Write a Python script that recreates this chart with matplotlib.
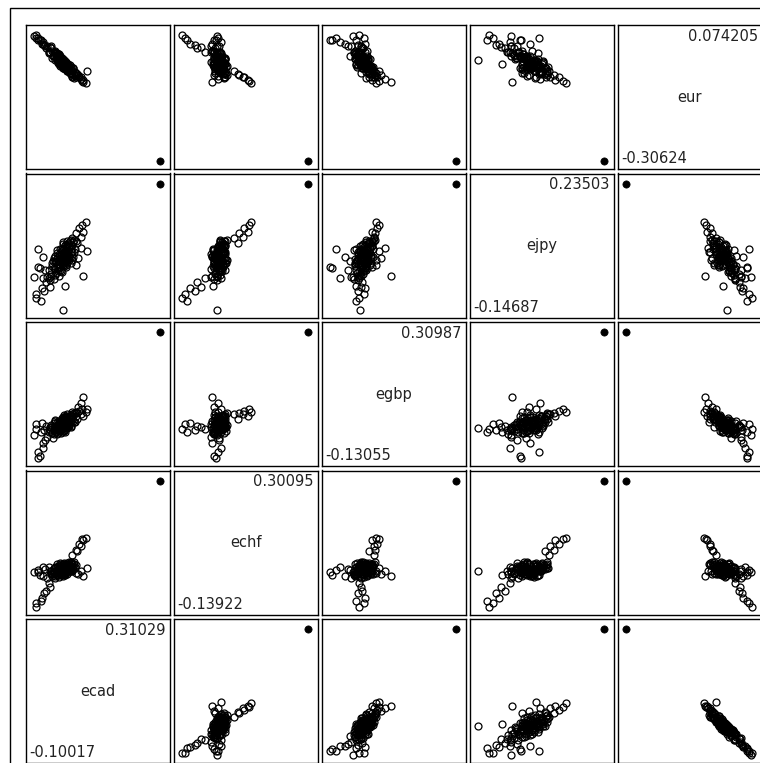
import numpy as np
import matplotlib.pyplot as plt
from matplotlib.patches import Rectangle

# monthly log-changes of five exchange rates; last observation is the crash month (drawn solid)
eur = [0.074205, 0.064, 0.060, 0.048, 0.045, 0.036, 0.038, 0.024, -0.070, -0.064, -0.060, -0.052, -0.053, -0.046, -0.044, -0.034,
       0.060, 0.066, 0.058, 0.054, 0.048, 0.072, 0.040, -0.068, -0.058, -0.046, -0.035, -0.040,
       0.000, -0.013,
       0.040, 0.006, 0.024, 0.012, 0.021, 0.007, 0.008, 0.000, 0.011, -0.011,
       0.018, -0.012, 0.010, -0.019, 0.012, -0.016, 0.006, -0.007, -0.005, -0.016,
       0.001, -0.013, -0.003, -0.016, -0.007, -0.019, -0.004, -0.016, -0.009, -0.024,
       -0.014, -0.022, -0.009, -0.025, -0.013, -0.022, -0.018, -0.031, -0.017, -0.029,
       -0.024, -0.039, -0.015, -0.044, -0.021, -0.051, -0.024, -0.054, 0.003, -0.026,
       0.011, -0.026, 0.020, -0.035, 0.003, -0.023, 0.022, -0.040, 0.027, -0.049,
       0.019, 0.035, 0.011, 0.023, -0.001, 0.015, 0.001, 0.016, -0.008, 0.012,
       -0.013, 0.006, -0.017, 0.004, -0.015, 0.003, -0.020, -0.003, -0.024, -0.001,
       -0.023, -0.005, -0.028, -0.006, -0.029, -0.012, -0.035, -0.013, -0.034, -0.018,
       -0.041, -0.024, -0.044, -0.025, -0.047, -0.038, -0.053, 0.041, 0.022, 0.027,
       -0.30624]
ejpy = [-0.112, -0.100, -0.120, -0.082, -0.092, -0.064, -0.078, -0.050, 0.119, 0.110, 0.088, 0.100, 0.072, 0.084, 0.056, 0.070,
        -0.017, 0.038, -0.020, -0.050, 0.012, -0.047, -0.028, -0.044, 0.040, 0.008, 0.030, -0.012,
        -0.14687, -0.074,
        -0.046, -0.007, -0.022, 0.010, -0.043, -0.002, -0.020, 0.024, -0.029, 0.001,
        -0.010, 0.017, -0.017, 0.037, 0.001, 0.016, -0.030, 0.027, -0.009, 0.007,
        0.036, -0.013, 0.020, 0.004, 0.051, 0.002, 0.028, -0.014, 0.021, 0.039,
        0.002, 0.020, 0.050, -0.001, 0.032, 0.017, 0.043, -0.006, 0.032, 0.052,
        0.016, 0.044, 0.010, 0.037, 0.065, 0.029, 0.058, 0.027, -0.033, 0.057,
        -0.046, -0.019, 0.034, 0.062, 0.007, 0.012, -0.055, -0.007, 0.017, 0.002,
        -0.026, -0.039, 0.000, -0.024, 0.000, -0.037, 0.008, -0.010, 0.022, -0.020,
        0.008, -0.027, 0.023, -0.002, 0.037, -0.007, 0.010, 0.033, -0.012, 0.023,
        0.003, 0.050, 0.011, 0.032, -0.012, 0.046, 0.022, 0.007, 0.045, 0.003,
        0.061, 0.029, 0.048, 0.014, 0.064, 0.038, 0.060, -0.047, -0.058, -0.014,
        0.23503]
egbp = [-0.028, -0.012, -0.040, -0.008, -0.032, -0.018, -0.022, -0.030, 0.030, 0.042, 0.018, 0.035, 0.022, 0.028, 0.005, 0.025,
        -0.13055, -0.108, -0.122, -0.095, -0.078, -0.050, -0.066, 0.084, 0.062, 0.048, 0.042, 0.030,
        -0.025, -0.040,
        -0.022, -0.042, -0.007, -0.031, -0.025, -0.041, -0.014, -0.006, -0.028, -0.016,
        -0.034, -0.006, -0.020, -0.011, -0.036, 0.002, -0.013, -0.025, -0.004, -0.020,
        0.009, -0.027, -0.012, -0.003, -0.015, 0.003, -0.032, -0.005, -0.018, 0.003,
        -0.010, 0.012, -0.019, -0.001, -0.024, 0.002, -0.011, 0.012, -0.014, 0.001,
        -0.018, 0.009, -0.004, 0.019, -0.006, 0.005, 0.017, -0.004, -0.022, -0.005,
        -0.034, 0.018, -0.047, 0.024, -0.043, 0.020, -0.047, -0.021, -0.001, 0.029,
        -0.040, -0.016, -0.059, -0.021, 0.001, -0.035, -0.022, -0.043, -0.011, 0.000,
        -0.025, -0.006, -0.031, 0.002, -0.038, -0.009, 0.012, -0.025, -0.015, 0.002,
        -0.035, -0.009, 0.014, -0.015, 0.008, -0.025, 0.004, -0.005, 0.018, -0.015,
        0.006, -0.017, 0.017, -0.002, 0.028, -0.004, 0.016, -0.057, -0.033, -0.044,
        0.30987]
echf = [-0.13922, -0.128, -0.120, -0.110, -0.092, -0.086, -0.072, -0.058, 0.101, 0.096, 0.092, 0.078, 0.074, 0.060, 0.055, 0.042,
        -0.020, -0.012, -0.028, -0.002, -0.034, -0.018, -0.008, -0.034, -0.014, -0.026, -0.004, -0.022,
        -0.016, -0.030,
        -0.015, -0.027, -0.005, -0.019, -0.006, -0.027, -0.012, -0.019, 0.002, -0.028,
        -0.006, -0.014, -0.021, -0.003, -0.010, -0.028, -0.006, 0.004, -0.014, -0.017,
        -0.006, 0.003, -0.012, -0.021, -0.001, -0.008, 0.002, -0.014, 0.010, -0.016,
        -0.004, -0.022, 0.000, -0.008, 0.007, -0.013, -0.004, 0.003, -0.015, 0.007,
        -0.007, 0.007, -0.015, 0.003, -0.006, 0.013, 0.000, 0.008, -0.011, -0.007,
        -0.018, 0.003, -0.028, 0.011, 0.008, -0.027, -0.027, 0.016, -0.034, -0.014,
        -0.002, -0.024, -0.010, -0.038, 0.000, -0.022, 0.011, -0.015, -0.037, 0.001,
        -0.026, 0.012, -0.019, -0.003, -0.029, 0.010, -0.014, -0.032, 0.006, -0.018,
        0.014, -0.009, -0.025, 0.005, -0.012, 0.013, -0.025, 0.001, -0.014, 0.018,
        -0.005, -0.016, 0.010, -0.008, 0.017, -0.002, 0.007, -0.039, -0.015, -0.031,
        0.30095]
ecad = [-0.095, -0.092, -0.078, -0.074, -0.066, -0.062, -0.048, -0.050, 0.068, 0.058, 0.060, 0.046, 0.052, 0.038, 0.040, 0.025,
        -0.088, -0.086, -0.080, -0.072, -0.070, -0.10017, -0.064, 0.060, 0.054, 0.042, 0.074, 0.036,
        -0.007, 0.000,
        -0.046, -0.041, -0.036, -0.034, -0.031, -0.028, -0.026, -0.024, -0.022, -0.021,
        -0.019, -0.018, -0.016, -0.015, -0.014, -0.013, -0.012, -0.011, -0.010, -0.009,
        -0.008, -0.007, -0.006, -0.006, -0.005, -0.004, -0.003, -0.002, -0.001, 0.000,
        0.001, 0.002, 0.003, 0.004, 0.005, 0.006, 0.008, 0.009, 0.010, 0.012,
        0.014, 0.016, 0.018, 0.020, 0.022, 0.024, 0.027, 0.030, -0.009, -0.004,
        -0.018, 0.004, -0.026, 0.009, -0.012, -0.002, -0.036, 0.019, -0.031, 0.024,
        -0.051, -0.044, -0.039, -0.033, -0.030, -0.027, -0.025, -0.023, -0.020, -0.017,
        -0.015, -0.014, -0.012, -0.010, -0.009, -0.007, -0.006, -0.005, -0.004, -0.003,
        -0.001, 0.000, 0.002, 0.003, 0.005, 0.007, 0.009, 0.011, 0.013, 0.015,
        0.017, 0.020, 0.023, 0.026, 0.029, 0.034, 0.038, -0.056, -0.048, -0.042,
        0.31029]

names = ["eur", "ejpy", "egbp", "echf", "ecad"]
data = {k: np.array(v) for k, v in zip(names, [eur, ejpy, egbp, echf, ecad])}
assert len({len(v) for v in data.values()}) == 1

W, H = 760, 763
PANEL, STEP_X, STEP_Y = 144, 148, 148.5
INK = "#222222"

def limits(v):
    lo, hi = v.min(), v.max()
    span = hi - lo
    return lo - 0.055 / 0.875 * span, hi + 0.07 / 0.875 * span

fig = plt.figure(figsize=(W / 100, H / 100), dpi=100)
fig.patches.append(Rectangle((10 / W, -0.1), 1.2, 1.1 - 8 / H, transform=fig.transFigure,
                             fill=False, lw=1.0, ec="black"))

rows = names            # y variable, top to bottom
cols = names[::-1]      # x variable, left to right
for r, yn in enumerate(rows):
    for c, xn in enumerate(cols):
        left = 26 + STEP_X * c
        top = 25 + STEP_Y * r
        ax = fig.add_axes([left / W, (H - top - PANEL) / H, PANEL / W, PANEL / H])
        ax.set_xticks([]); ax.set_yticks([])
        for s in ax.spines.values():
            s.set_linewidth(1.0)
        if xn == yn:
            v = data[xn]
            ax.set_xlim(0, 1); ax.set_ylim(0, 1)
            ax.text(0.5, 0.5, xn, ha="center", va="center", fontsize=10.5, color=INK)
            ax.text(0.97, 0.975, f"{v.max():.5g}", ha="right", va="top", fontsize=10.5, color=INK)
            ax.text(0.025, 0.02, f"{v.min():.5g}", ha="left", va="bottom", fontsize=10.5, color=INK)
            continue
        x, y = data[xn], data[yn]
        ax.plot(x[:-1], y[:-1], "o", ms=5.0, mfc="none", mec="black", mew=0.9)
        ax.plot(x[-1:], y[-1:], "o", ms=5.2, mfc="black", mec="black", mew=0.5)
        ax.set_xlim(*limits(x)); ax.set_ylim(*limits(y))

fig.savefig("out.png", dpi=100)
